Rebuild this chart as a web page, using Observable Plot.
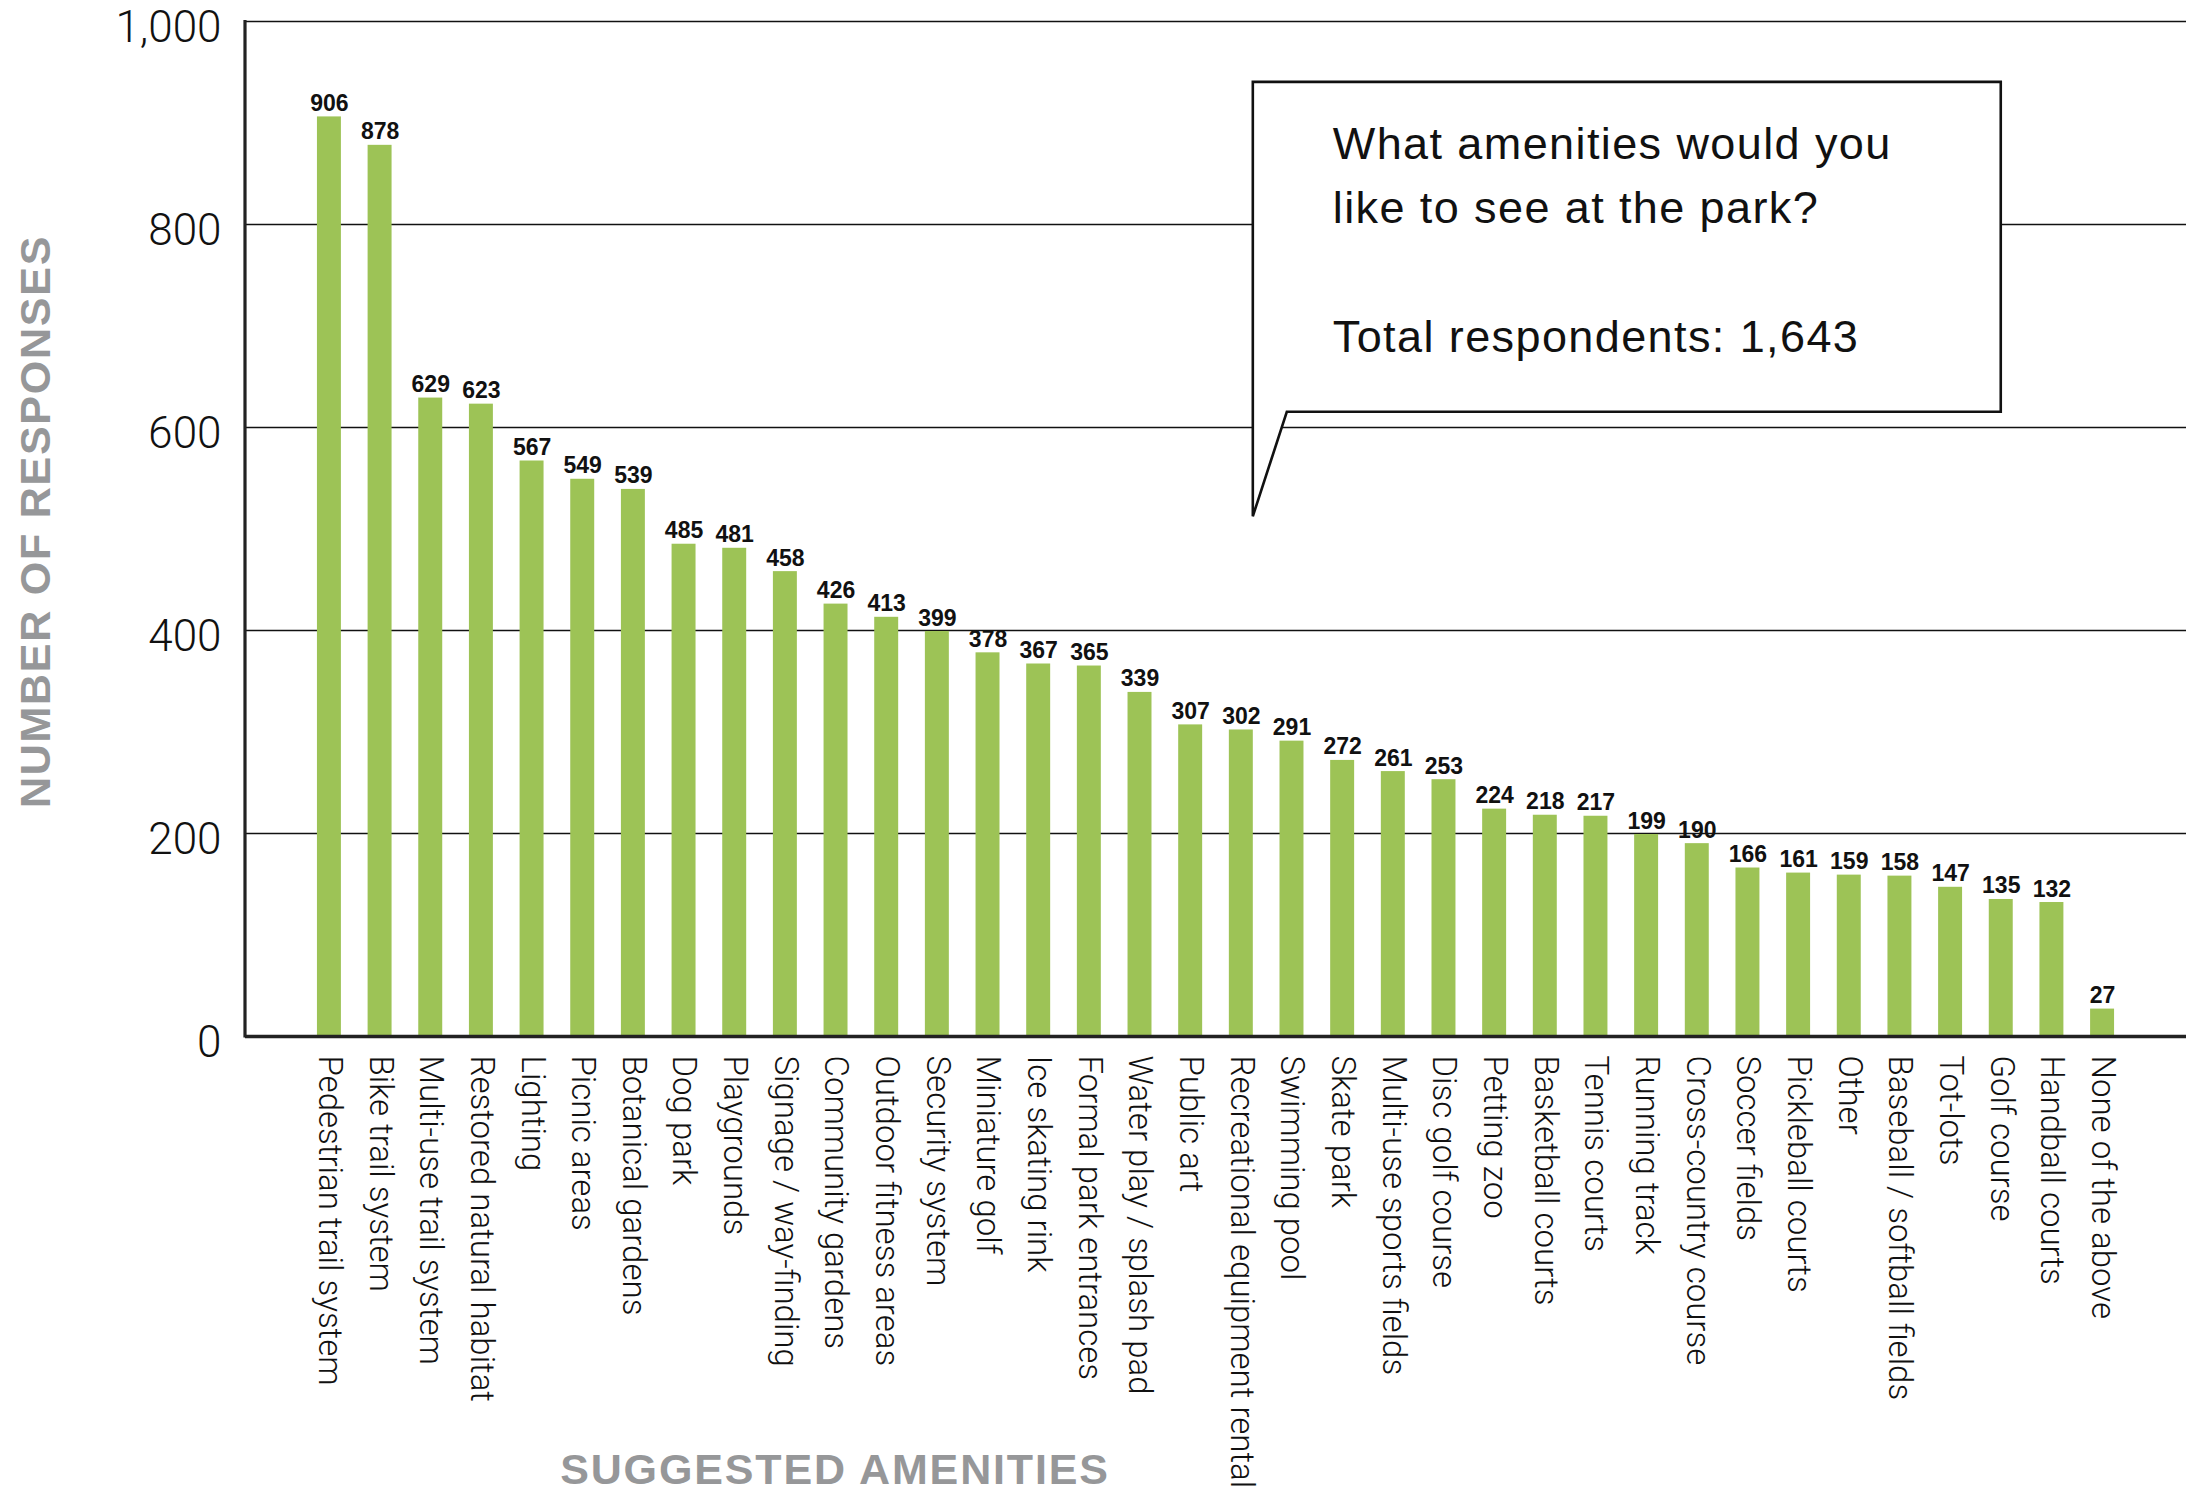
<!DOCTYPE html>
<html><head><meta charset="utf-8">
<script src="https://cdn.jsdelivr.net/npm/d3@7"></script>
<script src="https://cdn.jsdelivr.net/npm/@observablehq/plot@0.6"></script>
<style>
html,body{margin:0;padding:0;background:#fff;overflow:hidden;}
#chart svg{display:block;overflow:visible;}
</style></head><body><div id="chart"></div>
<script>
const amenities = [
  "Pedestrian trail system","Bike trail system","Multi-use trail system","Restored natural habitat",
  "Lighting","Picnic areas","Botanical gardens","Dog park","Playgrounds","Signage / way-finding",
  "Community gardens","Outdoor fitness areas","Security system","Miniature golf","Ice skating rink",
  "Formal park entrances","Water play / splash pad","Public art","Recreational equipment rental",
  "Swimming pool","Skate park","Multi-use sports fields","Disc golf course","Petting zoo",
  "Basketball courts","Tennis courts","Running track","Cross-country course","Soccer fields",
  "Pickleball courts","Other","Baseball / softball fields","Tot-lots","Golf course",
  "Handball courts","None of the above"
];
const responses = [906,878,629,623,567,549,539,485,481,458,426,413,399,378,367,365,339,307,302,291,272,261,253,224,218,217,199,190,166,161,159,158,147,135,132,27];
const yTicks = [0,200,400,600,800,1000];
const gridValues = [200,400,600,800,1000];
const yTitle = "NUMBER OF RESPONSES";
const xTitle = "SUGGESTED AMENITIES";
const calloutLines = ["What amenities would you","like to see at the park?","","Total respondents: 1,643"];
// callout anchoring (category edges and value levels)
const calloutLeftCat = "Recreational equipment rental";
const calloutRightCat = "Golf course";
const calloutTop = 940, calloutBottom = 615, calloutTip = 512;

const data = amenities.map((a, i) => ({amenity: a, responses: responses[i]}));

const GREEN = "#9dc356";
const GRAY = "#969799";
const LIGHT = "Roboto, 'Helvetica Neue', Arial, sans-serif";
const SANS = "'Liberation Sans', Arial, sans-serif";

const leftAxisLine = (index, scales, values, dims) => {
  const {marginLeft, marginTop, height, marginBottom} = dims;
  const g = d3.create("svg:line")
    .attr("x1", marginLeft).attr("x2", marginLeft)
    .attr("y1", marginTop - 1).attr("y2", height - marginBottom + 1.5)
    .attr("stroke", "#222").attr("stroke-width", 3.2);
  return g.node();
};

const callout = (index, {x, y}) => {
  const bw = x.bandwidth();
  const left = x(calloutLeftCat) + bw;
  const right = x(calloutRightCat) + bw / 2;
  const top = y(calloutTop), bottom = y(calloutBottom), tip = y(calloutTip);
  const tailX = left + 34;
  const g = d3.create("svg:g");
  g.append("path")
    .attr("d", `M${left},${top}H${right}V${bottom}H${tailX}L${left},${tip}Z`)
    .attr("fill", "white").attr("stroke", "#111").attr("stroke-width", 2.6)
    .attr("stroke-linejoin", "miter");
  const t = g.append("text")
    .attr("font-family", SANS).attr("font-size", 45).attr("fill", "#111")
    .attr("text-anchor", "start").attr("letter-spacing", 1.4);
  calloutLines.forEach((line, i) => {
    if (!line) return;
    t.append("tspan").attr("x", left + 80).attr("y", top + 77 + i * 64.5).text(line);
  });
  return g.node();
};

const chart = Plot.plot({
  width: 2204,
  height: 1490,
  marginTop: 21,
  marginLeft: 245,
  marginRight: 18,
  marginBottom: 454,
  x: {domain: amenities, paddingInner: 0.527, paddingOuter: 1.42, round: false},
  y: {domain: [0, 1000]},
  marks: [
    Plot.ruleY(gridValues, {stroke: "#111", strokeWidth: 1.3}),
    Plot.barY(data, {x: "amenity", y: "responses", fill: GREEN}),
    Plot.ruleY([0], {stroke: "#222", strokeWidth: 3.4}),
    leftAxisLine,
    Plot.text(data, {x: "amenity", y: "responses", text: d => d.responses, dy: -6,
      lineAnchor: "bottom", fontSize: 23, fontWeight: "bold", fontFamily: SANS, fill: "#111"}),
    Plot.axisY({ticks: yTicks, tickFormat: d3.format(","), tickSize: 0, tickPadding: 24,
      fontSize: 44, fontWeight: 300, fontFamily: LIGHT, label: null, color: "#111", dy: 6}),
    Plot.axisX({tickRotate: 90, tickSize: 0, tickPadding: 19, fontSize: 33,
      fontWeight: 300, fontFamily: LIGHT, label: null, color: "#111"}),
    callout,
    Plot.text([yTitle], {frameAnchor: "left", rotate: -90, dx: -209.5, dy: -7.5,
      lineAnchor: "middle", textAnchor: "middle", fontSize: 43, fontWeight: "bold",
      fontFamily: SANS, fill: GRAY}),
    Plot.text([xTitle], {frameAnchor: "bottom", dx: -381, dy: 434,
      lineAnchor: "middle", textAnchor: "middle", fontSize: 43, fontWeight: "bold",
      fontFamily: SANS, fill: GRAY})
  ]
});

d3.select(chart).selectAll("text")
  .filter(function() { return this.textContent === yTitle; })
  .attr("letter-spacing", 1.75);
d3.select(chart).selectAll("text")
  .filter(function() { return this.textContent === xTitle; })
  .attr("letter-spacing", 1.85);

document.getElementById("chart").appendChild(chart);
</script>
</body></html>
